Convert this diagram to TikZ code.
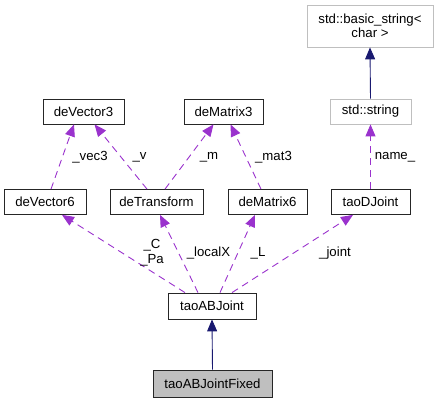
\documentclass[tikz,border=0pt]{standalone}
\usepackage{fontspec}
\setmainfont{Liberation Sans}
\usetikzlibrary{shapes,arrows.meta,positioning}

\definecolor{memberline}{HTML}{9A32CD}
\definecolor{inheritline}{HTML}{191970}
\definecolor{extgray}{HTML}{BFBFBF}

\tikzset{
  cls/.style={draw=black!85, fill=white, line width=0.8pt, inner sep=0pt,
    minimum height=25pt, align=center, font=\fontsize{13.2}{14.5}\selectfont},
  extcls/.style={cls, draw=extgray},
  thiscls/.style={cls, fill=extgray},
  member/.style={draw=memberline, line width=0.9pt, dash pattern=on 7pt off 5pt,
    -{Triangle[length=12pt,width=10pt,fill=memberline]}},
  inherit/.style={draw=inheritline, line width=0.9pt,
    -{Triangle[length=12pt,width=10pt,fill=inheritline]}},
  lbl/.style={inner sep=0pt, align=center, font=\fontsize{13.2}{15}\selectfont}
}

\begin{document}
\begin{tikzpicture}[x=1pt,y=-1pt]
\useasboundingbox (0,0) rectangle (439,403);

% top row: string classes
\node[extcls, minimum width=126pt, minimum height=42pt] (basicstr) at (370,26) {std::basic\_string<\\char >};
\node[extcls, minimum width=81pt] (stdstr) at (370.5,111.5) {std::string};

% used members
\node[cls, minimum width=81pt] (vec3) at (83.5,111.5) {deVector3};
\node[cls, minimum width=79pt] (mat3) at (223.5,111.5) {deMatrix3};
\node[cls, minimum width=82pt] (vec6) at (45,202) {deVector6};
\node[cls, minimum width=93pt] (trans) at (156.5,202) {deTransform};
\node[cls, minimum width=79pt] (mat6) at (267.5,202) {deMatrix6};
\node[cls, minimum width=79pt] (djoint) at (370.5,202) {taoDJoint};

% the joint classes
\node[cls, minimum width=88pt, minimum height=26pt] (abjoint) at (212,306) {taoABJoint};
\node[thiscls, minimum width=119pt, minimum height=27pt] (abfixed) at (212.5,383.5) {taoABJointFixed};

% inheritance
\draw[inherit] (stdstr.north) -- (basicstr.south);
\draw[inherit] (abfixed.north) -- (abjoint.south);

% member links
\draw[member] ([xshift=6pt]vec6.north) -- ([xshift=-9.5pt]vec3.south);
\draw[member] ([xshift=-9.5pt]trans.north) -- ([xshift=11pt]vec3.south);
\draw[member] ([xshift=8.5pt]trans.north) -- ([xshift=-10pt]mat3.south);
\draw[member] ([xshift=-6.5pt]mat6.north) -- ([xshift=7pt]mat3.south);
\draw[member] (djoint.north) -- (stdstr.south);
\draw[member] ([xshift=-27pt]abjoint.north) -- ([xshift=17pt]vec6.south);
\draw[member] ([xshift=-14pt]abjoint.north) -- ([xshift=3.5pt]trans.south);
\draw[member] ([xshift=8pt]abjoint.north) -- ([xshift=-12.5pt]mat6.south);
\draw[member] ([xshift=20pt]abjoint.north) -- ([xshift=-17.5pt]djoint.south);

% member names
\node[lbl] (lvec3) at (90,157) {\_vec3};
\node[lbl] (lv) at (139.5,157) {\_v};
\node[lbl] (lm) at (209,157) {\_m};
\node[lbl] (lmat3) at (273.5,157) {\_mat3};
\node[lbl] (lname) at (395,157) {name\_};
\node[lbl] (lcpa) at (152,253) {\_C\\\_Pa};
\node[lbl] (llocal) at (208.5,253) {\_localX};
\node[lbl] (ll) at (258,253) {\_L};
\node[lbl] (ljoint) at (335,253) {\_joint};
\end{tikzpicture}
\end{document}
